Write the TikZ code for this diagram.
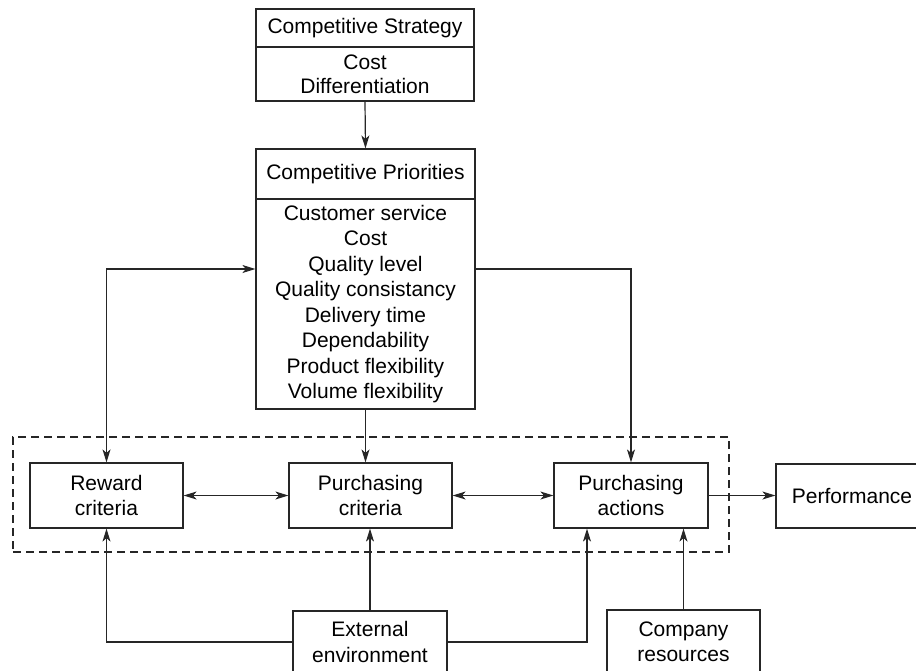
\documentclass[tikz,border=0pt]{standalone}
\usepackage{fontspec}
\setmainfont{Liberation Sans}
\usetikzlibrary{arrows.meta,calc}
\tikzset{
  headarr/.tip={Stealth[length=13pt,width=8pt,inset=3.5pt]},
  arrowone/.style={-headarr},
  arrowtwo/.style={headarr-headarr},
  box/.style={draw=black!85, line width=1.2pt, minimum height=65pt},
  con/.style={draw=black!85, line width=1.2pt},
  grpbox/.style={draw=black!85, line width=1.1pt, dash pattern=on 8pt off 5pt}
}
\begin{document}
\begin{tikzpicture}[x=1pt,y=-1pt,
  every node/.style={font=\fontsize{21}{25.5}\selectfont, inner sep=0pt, align=center}]
\useasboundingbox (0,0) rectangle (916,670);
% dashed group
\node[grpbox, minimum width=716pt, minimum height=115pt] (grp) at (371,494.5) {};
% competitive strategy
\node[box, minimum width=218pt, minimum height=38pt] (sh) at (365,28) {Competitive Strategy};
\node[box, minimum width=218pt, minimum height=54pt, font=\fontsize{21}{24}\selectfont] (sb) at (365,74) {Cost\\Differentiation};
% competitive priorities
\node[box, minimum width=219pt, minimum height=50pt] (ph) at (365.5,174) {Competitive Priorities};
\node[box, minimum width=219pt, minimum height=210pt] (pb) at (365.5,304) {Customer service\\Cost\\Quality level\\Quality consistancy\\Delivery time\\Dependability\\Product flexibility\\Volume flexibility};
% middle row
\node[box, minimum width=153pt] (rew) at (106.5,495.5) {Reward\\criteria};
\node[box, minimum width=163pt] (crit) at (370.5,495.5) {Purchasing\\criteria};
\node[box, minimum width=154pt] (act) at (631,495.5) {Purchasing\\actions};
\node[box, minimum width=152pt, minimum height=64pt] (perf) at (852,496) {Performance};
% bottom row
\node[box, minimum width=154pt, minimum height=62pt] (ext) at (370,642) {External\\environment};
\node[box, minimum width=153pt, minimum height=64pt] (comp) at (683.5,642) {Company\\resources};
% coordinates
\coordinate (pl) at (pb.west |- 0,269);
\coordinate (pr) at (pb.east |- 0,269);
\coordinate (actl) at ([xshift=-44pt]act.south);
% connectors
\draw[con,arrowone] (sb.south) -- (ph.north);
\draw[con,arrowtwo] (rew.north) |- (pl);
\draw[con,arrowone] (pr) -| (act.north);
\draw[con,arrowone] (pb.south) -- (pb.south |- crit.north);
\draw[con,arrowtwo] (rew.east) -- (crit.west);
\draw[con,arrowtwo] (crit.east) -- (act.west);
\draw[con,arrowone] (act.east) -- (act.east -| perf.west);
\draw[con,arrowone] (ext.west) -| (rew.south);
\draw[con,arrowone] (ext.north) -- (ext.north |- crit.south);
\draw[con,arrowone] (ext.east) -| (actl);
\draw[con,arrowone] (comp.north) -- (comp.north |- act.south);
\end{tikzpicture}
\end{document}
